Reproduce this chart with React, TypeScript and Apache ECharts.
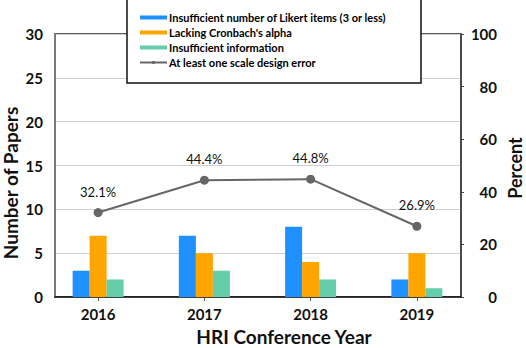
import React, { useEffect, useRef } from "react";
import * as echarts from "echarts";

const years = ["2016", "2017", "2018", "2019"];
const likertItems = [3, 7, 8, 2];
const cronbach = [7, 5, 4, 5];
const insufficientInfo = [2, 3, 2, 1];
const anyErrorPct = [32.1, 44.4, 44.8, 26.9];
const seriesNames = [
  "Insufficient number of Likert items (3 or less)",
  "Lacking Cronbach's alpha",
  "Insufficient information",
  "At least one scale design error",
];
const colors = ["#1e90ff", "#ffa500", "#66cdaa", "#666666"];

const FONT = "Lato";

export default function App() {
  const ref = useRef<HTMLDivElement>(null);
  useEffect(() => {
    if (!ref.current) return;
    const chart = echarts.init(ref.current, null, { renderer: "svg" });
    const bar = (i: number, data: number[]) => ({
      name: seriesNames[i],
      type: "bar",
      xAxisIndex: 1,
      yAxisIndex: 2,
      data,
      barWidth: 17,
      barGap: "0%",
      itemStyle: { color: colors[i] },
      z: 3,
    });
    chart.setOption({
      animation: false,
      backgroundColor: "#ffffff",
      textStyle: { fontFamily: FONT },
      grid: [
        { left: 55, right: 65, top: 34, bottom: 51, show: true, borderColor: "#222", borderWidth: 1.5, backgroundColor: "transparent" },
        { left: 45, right: 56, top: 34, bottom: 51 },
      ],
      xAxis: [
        {
          gridIndex: 0,
          type: "category",
          data: years,
          axisLine: { show: true, lineStyle: { color: "#111", width: 1.5 } },
          axisTick: { show: false },
          axisLabel: { show: false },
          splitLine: { show: false },
        },
        {
          gridIndex: 1,
          type: "category",
          data: years,
          axisLine: { show: false },
          axisTick: { show: true, alignWithLabel: true, length: 4, lineStyle: { color: "#555" } },
          axisLabel: { fontFamily: FONT, fontWeight: "bold", fontSize: 15, color: "#111", margin: 9 },
          splitLine: { show: false },
        },
      ],
      yAxis: [
        {
          gridIndex: 0,
          type: "value",
          position: "left",
          min: 0,
          max: 30,
          interval: 5,
          axisLine: { show: true, lineStyle: { color: "#7a7a7a", width: 2 } },
          axisTick: { show: false },
          axisLabel: { fontFamily: FONT, fontWeight: "bold", fontSize: 15, color: "#111", margin: 12 },
          splitLine: { show: true, lineStyle: { color: "#cfcfcf", width: 1.2 } },
        },
        {
          gridIndex: 0,
          type: "value",
          position: "right",
          min: 0,
          max: 100,
          interval: 20,
          axisLine: { show: true, lineStyle: { color: "#444", width: 1.5 } },
          axisTick: { show: true, inside: false, length: 3, lineStyle: { color: "#444" } },
          axisLabel: { fontFamily: FONT, fontWeight: "bold", fontSize: 15, color: "#111", margin: 36, align: "right" },
          splitLine: { show: false },
        },
        { gridIndex: 1, type: "value", min: 0, max: 30, show: false },
        { gridIndex: 1, type: "value", min: 0, max: 100, show: false },
      ],
      legend: {
        orient: "vertical",
        left: 134,
        top: 6,
        itemWidth: 27,
        itemHeight: 4,
        itemGap: 2,
        z: 6,
        textStyle: { fontFamily: FONT, fontWeight: "bold", fontSize: 11, color: "#000", lineHeight: 13, padding: [0, 0, 0, -3] },
        data: [
          { name: seriesNames[0], icon: "rect" },
          { name: seriesNames[1], icon: "rect" },
          { name: seriesNames[2], icon: "rect" },
          { name: seriesNames[3] },
        ],
      },
      graphic: [
        {
          type: "rect",
          z: 5,
          shape: { x: 127, y: -5, width: 294, height: 88 },
          style: { fill: "#ffffff", stroke: "#111", lineWidth: 1.5 },
        },
        {
          type: "text",
          z: 5,
          x: 10,
          y: 183,
          rotation: Math.PI / 2,
          style: { text: "Number of Papers", fontFamily: FONT, fontWeight: "bold", fontSize: 19, fill: "#111", align: "center", verticalAlign: "middle" },
        },
        {
          type: "text",
          z: 5,
          x: 515,
          y: 168,
          rotation: Math.PI / 2,
          style: { text: "Percent", fontFamily: FONT, fontWeight: "bold", fontSize: 18, fill: "#111", align: "center", verticalAlign: "middle" },
        },
        {
          type: "text",
          z: 5,
          x: 284,
          y: 336,
          style: { text: "HRI Conference Year", fontFamily: FONT, fontWeight: "bold", fontSize: 19, fill: "#111", align: "center", verticalAlign: "middle" },
        },
      ],
      series: [
        bar(0, likertItems),
        bar(1, cronbach),
        bar(2, insufficientInfo),
        {
          name: seriesNames[3],
          type: "line",
          xAxisIndex: 1,
          yAxisIndex: 3,
          data: anyErrorPct,
          z: 4,
          symbol: "circle",
          symbolSize: 9,
          itemStyle: { color: colors[3] },
          lineStyle: { color: colors[3], width: 2 },
          label: {
            show: true,
            position: "top",
            distance: 10,
            fontFamily: FONT,
            fontSize: 13,
            color: "#111",
            formatter: (p: any) => `${p.value}%`,
          },
        },
      ],
    });
    return () => chart.dispose();
  }, []);
  return <div ref={ref} style={{ width: 526, height: 348, position: "absolute", left: 0, top: 0 }} />;
}
